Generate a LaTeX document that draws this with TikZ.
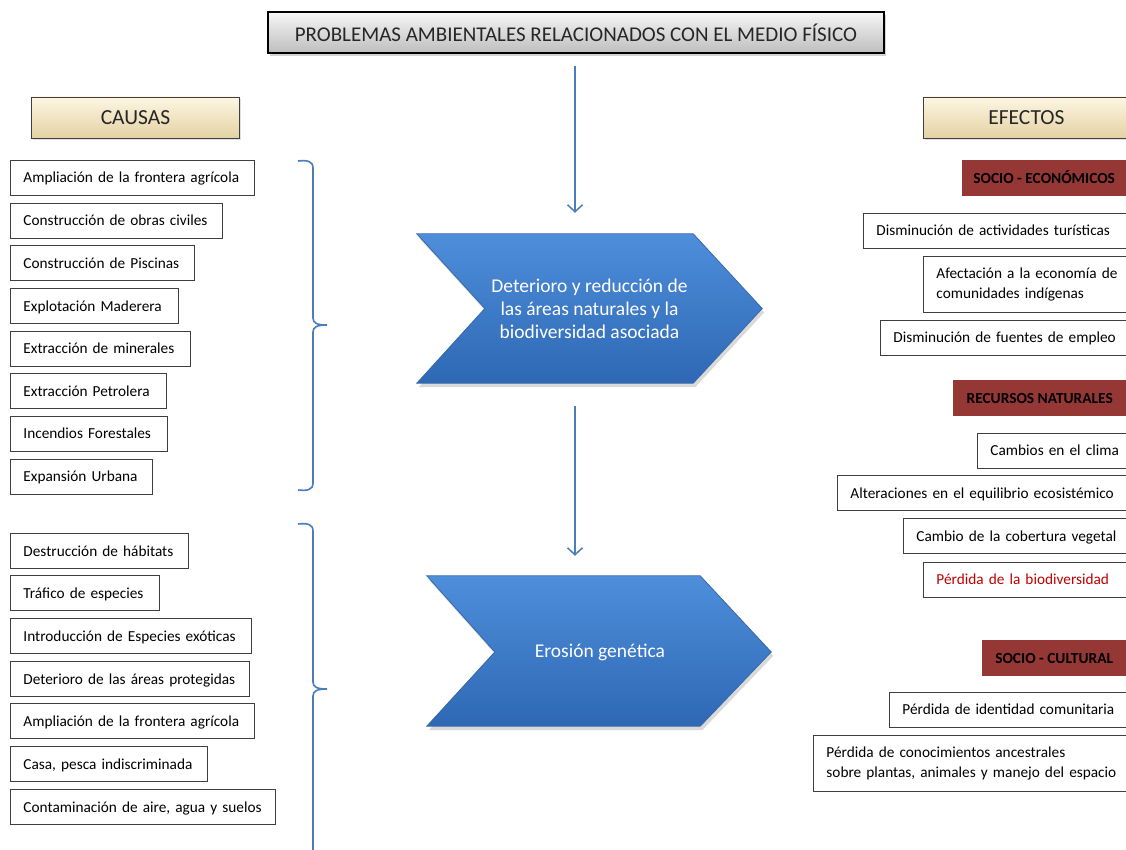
\documentclass[tikz,border=0pt]{standalone}
\usepackage{fontspec}
\setmainfont{Carlito}
\usetikzlibrary{calc,shadows,arrows.meta}

\pgfdeclarelayer{background}
\pgfsetlayers{background,main}

\definecolor{boxline}{HTML}{3F3F3F}
\definecolor{braceblue}{HTML}{4A7EBB}
\definecolor{headred}{HTML}{953735}
\definecolor{lossred}{HTML}{C00000}
\definecolor{chevtop}{HTML}{4E8EDB}
\definecolor{chevbot}{HTML}{2E68B4}
\definecolor{chevedge}{HTML}{3868A8}
\definecolor{beigetop}{HTML}{FDF6E3}
\definecolor{beigebot}{HTML}{E4D2A3}
\definecolor{greytop}{HTML}{F6F6F6}
\definecolor{greybot}{HTML}{BEBEBE}
\definecolor{inktext}{HTML}{262626}

\tikzset{
  itembox/.style={draw=boxline, line width=0.9pt, fill=white, anchor=west,
    inner xsep=13pt, inner ysep=0pt, minimum height=35pt, align=left,
    text height=12pt, text depth=2pt,
    font=\fontsize{15.3}{18}\selectfont},
  twoline/.style={minimum height=56pt, text height=12pt, text depth=24pt,
    font=\fontsize{15.3}{20}\selectfont},
  titlebox/.style={draw=black, line width=1.3pt, top color=greytop, bottom color=greybot,
    minimum width=616pt, minimum height=41pt, inner sep=0pt, text=inktext,
    font=\fontsize{21}{24}\selectfont,
    drop shadow={shadow xshift=2pt, shadow yshift=-3pt, opacity=0.35}},
  sidehead/.style={draw=boxline, line width=0.9pt, top color=beigetop, bottom color=beigebot,
    minimum height=41pt, inner sep=0pt, anchor=west, text=inktext,
    font=\fontsize{21.5}{24}\selectfont,
    drop shadow={shadow xshift=1.5pt, shadow yshift=-2pt, opacity=0.25}},
  groupbar/.style={fill=headred, minimum height=36pt, inner sep=0pt, anchor=west,
    text height=12pt, text depth=1pt,
    font=\bfseries\fontsize{15.4}{18}\selectfont},
  chevframe/.style={inner sep=0pt, text=white, align=center,
    font=\fontsize{19.5}{23}\selectfont},
  chevfill/.style={top color=chevtop, bottom color=chevbot, draw=chevedge, line width=0.8pt,
    drop shadow={shadow xshift=2pt, shadow yshift=-4pt, opacity=0.3}},
  flowarrow/.style={draw=braceblue, line width=1.5pt,
    -{Straight Barb[length=7pt, width=15pt, line width=1.5pt]}},
  bracket/.style={draw=braceblue, line width=1.6pt}
}

\begin{document}
\begin{tikzpicture}[x=1pt, y=-1pt]
\useasboundingbox (0,0) rectangle (1126,850);

% title
\node[titlebox] (title) at (576,32.5) {PROBLEMAS AMBIENTALES RELACIONADOS CON EL MEDIO FÍSICO};

% column headers
\node[sidehead, minimum width=208pt] (causas) at (31,117.5) {CAUSAS};
\node[sidehead, minimum width=208pt] (efectos) at (923,117.5) {\hspace*{-2pt}EFECTOS};

% first group of causes
\node[itembox, text width=218pt] (c1) at (10,178) {Ampliación de la frontera agrícola};
\node[itembox, text width=186pt] (c2) at (10,220.5) {Construcción de obras civiles};
\node[itembox, text width=158pt] (c3) at (10,263) {Construcción de Piscinas};
\node[itembox, text width=142pt] (c4) at (10,306) {Explotación Maderera};
\node[itembox, text width=154pt] (c5) at (10,348.5) {Extracción de minerales};
\node[itembox, text width=130pt] (c6) at (10,391) {Extracción Petrolera};
\node[itembox, text width=131pt] (c7) at (10,433.5) {Incendios Forestales};
\node[itembox, text width=116pt] (c8) at (10,476.5) {Expansión Urbana};

% second group of causes
\node[itembox, text width=152pt] (d1) at (10,551) {Destrucción de hábitats};
\node[itembox, text width=123pt] (d2) at (10,593) {Tráfico de especies};
\node[itembox, text width=215pt] (d3) at (10,636) {Introducción de Especies exóticas};
\node[itembox, text width=213pt] (d4) at (10,679) {Deterioro de las áreas protegidas};
\node[itembox, text width=218pt] (d5) at (10,721) {Ampliación de la frontera agrícola};
\node[itembox, text width=171pt] (d6) at (10,764) {Casa, pesca indiscriminada};
\node[itembox, text width=239pt] (d7) at (10,807) {Contaminación de aire, agua y suelos};

% brackets gathering the causes
\draw[bracket] (298,161) .. controls (307,160) and (313,161) .. (313,168)
  -- (313,318) .. controls (313,323) and (317,325) .. (327,325)
  .. controls (317,325) and (313,327) .. (313,332)
  -- (313,483) .. controls (313,490) and (307,491) .. (298,490);
\draw[bracket] (298,524) .. controls (307,523) and (313,524) .. (313,531)
  -- (313,682) .. controls (313,687) and (317,689) .. (327,689)
  .. controls (317,689) and (313,691) .. (313,696)
  -- (313,860);

% chevrons
\node[chevframe, minimum width=345pt, minimum height=149pt] (chev1) at (589.5,308.5)
  {Deterioro y reducción de\\las áreas naturales y la\\biodiversidad asociada};
\node[chevframe, minimum width=344pt, minimum height=150pt] (chev2) at (600,652)
  {Erosión genética};
\begin{pgfonlayer}{background}
\path[chevfill] (chev1.north west) -- ($(chev1.north east)+(-69,0)$) -- (chev1.east)
  -- ($(chev1.south east)+(-69,0)$) -- (chev1.south west) -- ($(chev1.west)+(68,0)$) -- cycle;
\path[chevfill] ([xshift=-1pt,yshift=1pt]chev2.north west) -- ($(chev2.north east)+(-72,-1)$) -- ([xshift=-1pt]chev2.east)
  -- ($(chev2.south east)+(-72,-1)$) -- ([xshift=-1pt,yshift=1pt]chev2.south west) -- ($(chev2.west)+(67,0)$) -- cycle;
\end{pgfonlayer}

% flow arrows
\draw[flowarrow, shorten <=12pt, shorten >=21pt] ([xshift=-1pt]title.south) -- ([xshift=-1pt]title.south |- chev1.north);
\draw[flowarrow, shorten <=23pt, shorten >=21pt] ([xshift=-1pt]title.south |- chev1.south) -- ([xshift=-1pt]title.south |- chev2.north);

% effects: socio-economic
\node[groupbar, minimum width=164pt] (se) at (962,178) {SOCIO - ECONÓMICOS};
\node[itembox, text width=243pt] (e1) at (863,230.5) {Disminución de actividades turísticas};
\node[itembox, twoline, text width=183pt] (e2) at (923,284) {Afectación a la economía de\\comunidades indígenas};
\node[itembox, text width=226pt] (e3) at (880,337.5) {Disminución de fuentes de empleo};

% effects: natural resources
\node[groupbar, minimum width=173pt] (rn) at (953,397.5) {RECURSOS NATURALES};
\node[itembox, text width=129pt] (e4) at (977,450.5) {Cambios en el clima};
\node[itembox, text width=269pt] (e5) at (837,493) {Alteraciones en el equilibrio ecosistémico};
\node[itembox, text width=203pt] (e6) at (903,536) {Cambio de la cobertura vegetal};
\node[itembox, text width=183pt, text=lossred] (e7) at (923,579.5) {Pérdida de la biodiversidad};

% effects: socio-cultural
\node[groupbar, minimum width=144pt] (sc) at (982,658) {SOCIO - CULTURAL};
\node[itembox, text width=217pt] (e8) at (889,709.5) {Pérdida de identidad comunitaria};
\node[itembox, twoline, text width=293pt] (e9) at (813,763) {Pérdida de conocimientos ancestrales\\sobre plantas, animales y manejo del espacio};
\end{tikzpicture}
\end{document}
